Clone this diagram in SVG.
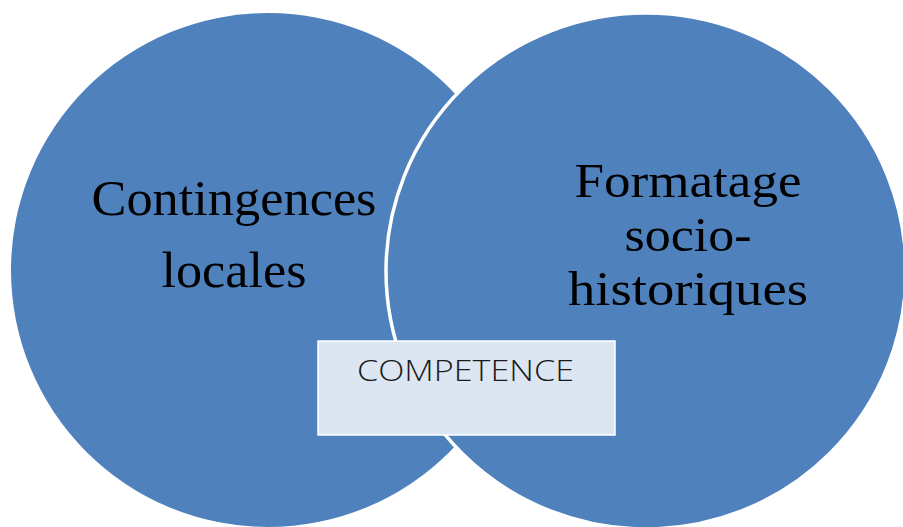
<svg xmlns="http://www.w3.org/2000/svg" width="903" height="527" viewBox="0 0 903 527">
  <style>
    .circle { fill: #4F81BD; }
    .big { font-family: "Liberation Serif", "Times New Roman", serif; fill: #000000; text-anchor: middle; }
    .box { fill: #DCE6F2; stroke: #FFFFFF; stroke-width: 1.5; }
    .label { font-family: "Open Sans", "Liberation Sans", Arial, sans-serif; font-weight: 300; font-size: 30px; fill: #1a1a1a; text-anchor: middle; }
  </style>
  <rect width="903" height="527" fill="#FFFFFF"/>
  <g id="node-contingences">
    <circle class="circle" cx="268" cy="270" r="257"/>
    <text class="big" font-size="50" x="234" y="215" textLength="285" lengthAdjust="spacingAndGlyphs">Contingences</text>
    <text class="big" font-size="50" x="234" y="287" textLength="145" lengthAdjust="spacingAndGlyphs">locales</text>
  </g>
  <g id="node-formatage">
    <ellipse class="circle" cx="646" cy="271" rx="260" ry="258" stroke="#FFFFFF" stroke-width="3.5"/>
    <text class="big" font-size="48" x="688" y="197" textLength="227" lengthAdjust="spacingAndGlyphs">Formatage</text>
    <text class="big" font-size="48" x="688" y="251" textLength="127" lengthAdjust="spacingAndGlyphs">socio-</text>
    <text class="big" font-size="48" x="688" y="305" textLength="240" lengthAdjust="spacingAndGlyphs">historiques</text>
  </g>
  <g id="node-competence">
    <rect class="box" x="318" y="341" width="297" height="94"/>
    <text class="label" x="465.5" y="381" textLength="217" lengthAdjust="spacingAndGlyphs">COMPETENCE</text>
  </g>
</svg>
